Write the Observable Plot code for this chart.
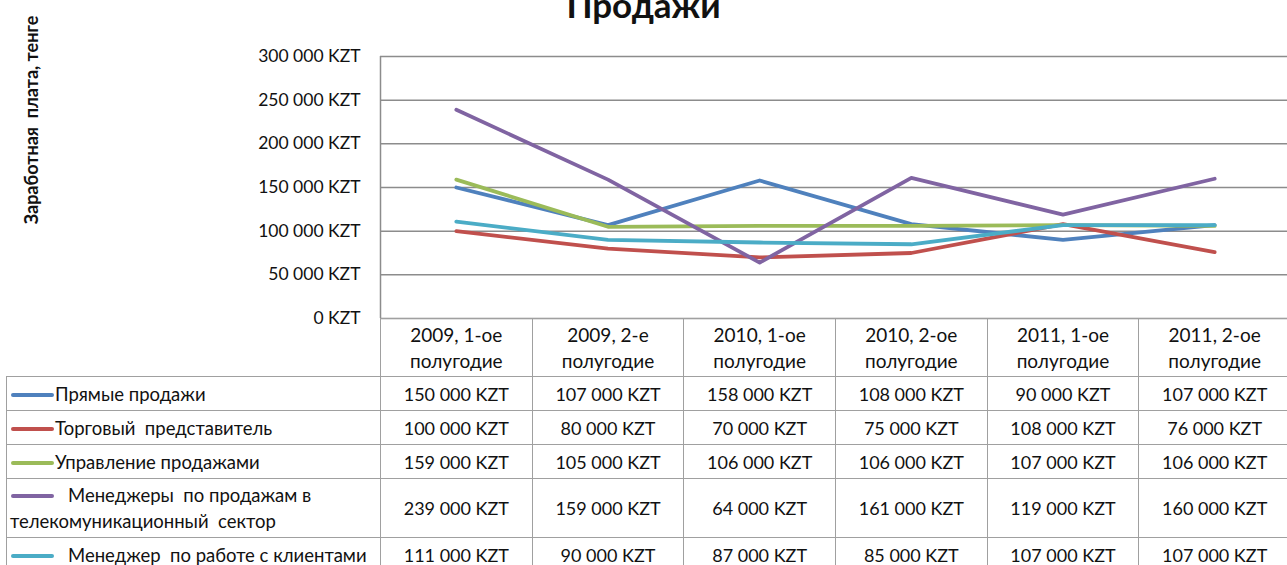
<!DOCTYPE html>
<html>
<head>
<meta charset="utf-8">
<script src="https://cdn.jsdelivr.net/npm/d3@7"></script>
<script src="https://cdn.jsdelivr.net/npm/@observablehq/plot@0.6"></script>
<style>
  html, body { margin: 0; padding: 0; background: #fff; overflow: hidden; width: 1287px; height: 565px; }
  #wrap { position: relative; width: 1287px; height: 565px; font-family: Lato, "Open Sans", sans-serif; color: #111; }
  #title { position: absolute; left: 0; width: 1287px; top: -17px; text-align: center; font-weight: bold; font-size: 35px; line-height: 42px; color: #111; }
  #ylabel { position: absolute; left: 31px; top: 120px; transform: translate(-50%, -50%) rotate(-90deg); white-space: pre; font-weight: bold; font-size: 18px; color: #111; }
  #chart { position: absolute; left: 0; top: 0; }
  #tbl { position: absolute; left: 6px; top: 318px; border-collapse: collapse; table-layout: fixed; width: 1285px; font-size: 18px; }
  #tbl td { border: 1px solid #a0a0a0; padding: 0; text-align: center; white-space: nowrap; }
  #tbl td.head { white-space: pre-line; line-height: 26px; font-size: 19px; }
  #tbl td.blank { border: none; border-right: 1px solid #a0a0a0; }
  #tbl td.name { text-align: left; line-height: 26px; font-size: 18.5px; }
  .sw { display: inline-block; width: 43px; height: 4px; border-radius: 2px; vertical-align: middle; margin-left: 4px; margin-right: 1px; position: relative; top: -1px; }
  .name.gap .sw { margin-left: 4px; margin-right: 14px; }
</style>
</head>
<body>
<div id="wrap">
  <div id="chart"></div>
  <div id="title"></div>
  <div id="ylabel"></div>
  <table id="tbl"></table>
</div>
<script>
const titleText = "Продажи";
const yLabelText = "Заработная  плата, тенге";
const categories = [
  "2009, 1-ое\nполугодие",
  "2009, 2-е\nполугодие",
  "2010, 1-ое\nполугодие",
  "2010, 2-ое\nполугодие",
  "2011, 1-ое\nполугодие",
  "2011, 2-ое\nполугодие"
];
const seriesNames = [
  "Прямые продажи",
  "Торговый  представитель",
  "Управление продажами",
  "Менеджеры  по продажам в телекомуникационный  сектор",
  "Менеджер  по работе с клиентами"
];
const seriesColors = ["#4f81bd", "#c0504d", "#9bbb59", "#8064a2", "#4bacc6"];
const directSales = [150000, 107000, 158000, 108000, 90000, 107000];
const salesRep = [100000, 80000, 70000, 75000, 108000, 76000];
const salesMgmt = [159000, 105000, 106000, 106000, 107000, 106000];
const telecomManagers = [239000, 159000, 64000, 161000, 119000, 160000];
const accountManager = [111000, 90000, 87000, 85000, 107000, 107000];
const yTicks = [0, 50000, 100000, 150000, 200000, 250000, 300000];

const seriesValues = [directSales, salesRep, salesMgmt, telecomManagers, accountManager];
const fmtNum = d3.formatLocale({decimal: ",", thousands: "\u2009", grouping: [3], currency: ["", ""]}).format(",d");
const fmt = v => fmtNum(v).replace(/\u2009/g, " ") + " KZT";

const rows = [];
seriesNames.forEach((name, s) => {
  seriesValues[s].forEach((v, i) => rows.push({series: name, idx: i, value: v}));
});

const chart = Plot.plot({
  width: 1287,
  height: 319,
  marginLeft: 380,
  marginRight: 0,
  marginTop: 56,
  marginBottom: 1,
  style: {fontFamily: "Lato, 'Open Sans', sans-serif", fontSize: "17.5px", color: "#111", background: "transparent", overflow: "visible"},
  x: {domain: [-0.5, categories.length - 0.5], range: [380, 1290], axis: null},
  y: {domain: [0, 300000], range: [318, 56], axis: null},
  color: {domain: seriesNames, range: seriesColors},
  marks: [
    Plot.ruleY(yTicks, {y: d => d, x1: -0.5, x2: categories.length - 0.5, stroke: "#8c8c8c", strokeWidth: 1.5}),
    Plot.ruleX([-0.5], {y1: 0, y2: 300000, stroke: "#8c8c8c", strokeWidth: 1.5}),
    Plot.text(yTicks, {x: -0.5, y: d => d, text: fmt, textAnchor: "end", dx: -20, fill: "#111"}),
    Plot.line(rows, {x: "idx", y: "value", z: "series", stroke: "series", strokeWidth: 3.8, strokeLinejoin: "round", strokeLinecap: "round"})
  ]
});
document.getElementById("chart").appendChild(chart);
document.getElementById("title").textContent = titleText;
document.getElementById("ylabel").textContent = yLabelText;

// data table
const tbl = document.getElementById("tbl");
const colgroup = document.createElement("colgroup");
const c0 = document.createElement("col"); c0.style.width = "374px"; colgroup.appendChild(c0);
categories.forEach(() => { const c = document.createElement("col"); c.style.width = (910 / categories.length) + "px"; colgroup.appendChild(c); });
tbl.appendChild(colgroup);

const hr = document.createElement("tr");
hr.style.height = "58px";
const blank = document.createElement("td"); blank.className = "blank"; hr.appendChild(blank);
categories.forEach(c => { const td = document.createElement("td"); td.className = "head"; td.textContent = c; hr.appendChild(td); });
tbl.appendChild(hr);

const rowHeights = [34, 34, 34, 59, 34];
seriesNames.forEach((name, s) => {
  const tr = document.createElement("tr");
  tr.style.height = rowHeights[s] + "px";
  const td = document.createElement("td");
  td.className = "name" + (s >= 3 ? " gap" : "");
  const sw = document.createElement("span");
  sw.className = "sw"; sw.style.background = seriesColors[s];
  td.appendChild(sw);
  if (s === 3) {
    td.appendChild(document.createTextNode("Менеджеры  по продажам в"));
    td.appendChild(document.createElement("br"));
    const t2 = document.createElement("span"); t2.style.marginLeft = "3px";
    t2.textContent = "телекомуникационный  сектор";
    td.appendChild(t2);
  } else {
    td.appendChild(document.createTextNode(name));
  }
  td.style.whiteSpace = "pre";
  tr.appendChild(td);
  seriesValues[s].forEach(v => { const c = document.createElement("td"); c.textContent = fmt(v); tr.appendChild(c); });
  tbl.appendChild(tr);
});
</script>
</body>
</html>
